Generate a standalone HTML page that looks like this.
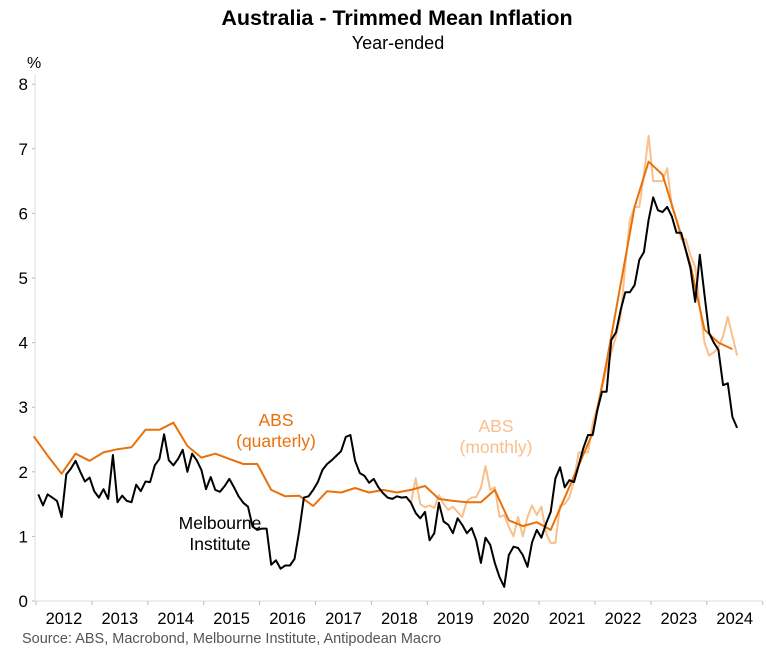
<!DOCTYPE html>
<html><head><meta charset="utf-8"><style>
body{margin:0;background:#fff;}
svg text{font-family:"Liberation Sans",Arial,sans-serif;}
</style></head><body>
<svg id="chart" width="766" height="658" viewBox="0 0 766 658" xmlns="http://www.w3.org/2000/svg">
<text x="397" y="25" text-anchor="middle" font-size="21.5" font-weight="bold" fill="#000">Australia - Trimmed Mean Inflation</text>
<text x="398" y="49" text-anchor="middle" font-size="18" fill="#000">Year-ended</text>
<text x="27" y="68" font-size="16" fill="#000">%</text>
<g id="axes"></g>
<g id="series"></g>
<text x="276" y="426" text-anchor="middle" font-size="17.5" fill="#e8710a">ABS</text>
<text x="276" y="447" text-anchor="middle" font-size="17.5" fill="#e8710a">(quarterly)</text>
<text x="496" y="432" text-anchor="middle" font-size="17.5" fill="#f9bf8c">ABS</text>
<text x="496" y="453" text-anchor="middle" font-size="17.5" fill="#f9bf8c">(monthly)</text>
<text x="220" y="529" text-anchor="middle" font-size="17.5" fill="#000">Melbourne</text>
<text x="220" y="550" text-anchor="middle" font-size="17.5" fill="#000">Institute</text>
<text x="22" y="643" font-size="14.5" fill="#555">Source: ABS, Macrobond, Melbourne Institute, Antipodean Macro</text>
</svg>
<script>
const yTicks=[0,1,2,3,4,5,6,7,8];
const years=[2012,2013,2014,2015,2016,2017,2018,2019,2020,2021,2022,2023,2024];
// quarterly ABS: from Dec 2011
const absQuarterly=[2.55,2.25,1.97,2.28,2.17,2.3,2.35,2.38,2.65,2.65,2.76,2.4,2.22,2.28,2.2,2.12,2.12,1.72,1.62,1.63,1.47,1.7,1.68,1.75,1.68,1.72,1.68,1.72,1.78,1.58,1.55,1.53,1.53,1.72,1.25,1.16,1.22,1.1,1.6,2.1,2.6,3.7,4.9,6.1,6.8,6.6,5.9,5.2,4.2,4.0,3.9];
// monthly ABS: from Sep 2018
const absMonthly=[1.52,1.9,1.5,1.45,1.48,1.44,1.64,1.5,1.41,1.46,1.38,1.3,1.55,1.6,1.61,1.75,2.09,1.72,1.76,1.3,1.33,1.15,1.0,1.3,1.0,1.3,1.48,1.33,1.46,1.05,0.9,0.9,1.48,1.5,1.6,1.87,2.3,2.3,2.3,2.75,3.0,3.3,3.6,3.85,4.1,4.4,5.2,5.9,6.1,6.1,6.6,7.2,6.5,6.5,6.5,6.7,6.1,5.9,5.6,5.6,5.35,5.17,4.55,4.0,3.8,3.85,3.93,4.1,4.4,4.1,3.8];
// Melbourne Institute: from Jan 2012
const melbourne=[1.65,1.48,1.65,1.6,1.55,1.3,1.96,2.05,2.17,2.0,1.85,1.91,1.7,1.6,1.73,1.58,2.26,1.53,1.63,1.55,1.53,1.8,1.7,1.85,1.84,2.1,2.2,2.58,2.18,2.1,2.2,2.34,2.0,2.28,2.18,2.03,1.73,1.92,1.72,1.69,1.78,1.89,1.76,1.62,1.52,1.46,1.15,1.1,1.12,1.12,0.56,0.63,0.5,0.55,0.55,0.65,1.08,1.6,1.62,1.72,1.84,2.03,2.12,2.18,2.25,2.32,2.54,2.57,2.17,1.98,1.94,1.83,1.89,1.76,1.67,1.6,1.58,1.62,1.6,1.61,1.52,1.36,1.28,1.38,0.94,1.05,1.52,1.23,1.18,1.05,1.28,1.18,1.05,1.13,0.94,0.59,0.98,0.87,0.59,0.37,0.22,0.71,0.84,0.82,0.71,0.53,0.91,1.1,0.98,1.2,1.38,1.9,2.07,1.76,1.87,1.84,2.1,2.37,2.57,2.57,2.95,3.24,3.24,4.04,4.16,4.5,4.78,4.78,4.89,5.28,5.4,5.9,6.25,6.05,6.02,6.1,5.95,5.7,5.7,5.43,5.15,4.63,5.36,4.74,4.15,4.0,3.89,3.34,3.37,2.85,2.68];

const X0=36,PX_YEAR=55.9,Y0=601,PX_UNIT=64.6,XR=762;
function xScale(t){return X0+(t-2012)*PX_YEAR;}
function yScale(v){return Y0-v*PX_UNIT;}
function monthT(startYear,startMonth,i){const m=startMonth-1+i;return startYear+Math.floor(m/12)+((m%12)+0.5)/12;}
const NS="http://www.w3.org/2000/svg";
const axes=document.getElementById('axes');
const series=document.getElementById('series');
function mk(tag,attrs,parent){const e=document.createElementNS(NS,tag);for(const k in attrs)e.setAttribute(k,attrs[k]);parent.appendChild(e);return e;}

const yAxis=mk('line',{x1:X0-1,x2:X0-1,y1:yScale(8)-10,y2:Y0,stroke:'#ddd','stroke-width':1},axes);


const xAxis=mk('line',{x1:X0-1,x2:XR,y1:Y0,y2:Y0,stroke:'#ddd','stroke-width':1},axes);


yTicks.forEach(v=>{
  const tk=mk('line',{x1:X0-4,x2:X0-1,y1:yScale(v),y2:yScale(v),stroke:'#bbb'},axes);
  
  
  const t=mk('text',{x:28,y:yScale(v)+6,'text-anchor':'end','font-size':17,fill:'#000'},axes);
  t.textContent=v;
  
  
});
years.forEach(yr=>{
  const tk=mk('line',{x1:xScale(yr),x2:xScale(yr),y1:Y0,y2:Y0+4,stroke:'#bbb'},axes);
  
  
  const t=mk('text',{x:xScale(yr+0.5),y:Y0+23,'text-anchor':'middle','font-size':16.5,fill:'#000'},axes);
  t.textContent=yr;
  
  
});
const tk2=mk('line',{x1:xScale(2025),x2:xScale(2025),y1:Y0,y2:Y0+4,stroke:'#bbb'},axes);



function pathFrom(vals,sy,sm,step){return vals.map((v,i)=>(i?'L':'M')+xScale(monthT(sy,sm,i*step)).toFixed(1)+' '+yScale(v).toFixed(1)).join(' ');}
const pm=mk('path',{d:pathFrom(absMonthly,2018,9,1),fill:'none',stroke:'#f9bf8c','stroke-width':2,'stroke-linejoin':'round'},series);


const pq=mk('path',{d:pathFrom(absQuarterly,2011,12,3),fill:'none',stroke:'#e8710a','stroke-width':2,'stroke-linejoin':'round'},series);


const pmi=mk('path',{d:pathFrom(melbourne,2012,1,1),fill:'none',stroke:'#000','stroke-width':2,'stroke-linejoin':'round'},series);


</script>
</body></html>
